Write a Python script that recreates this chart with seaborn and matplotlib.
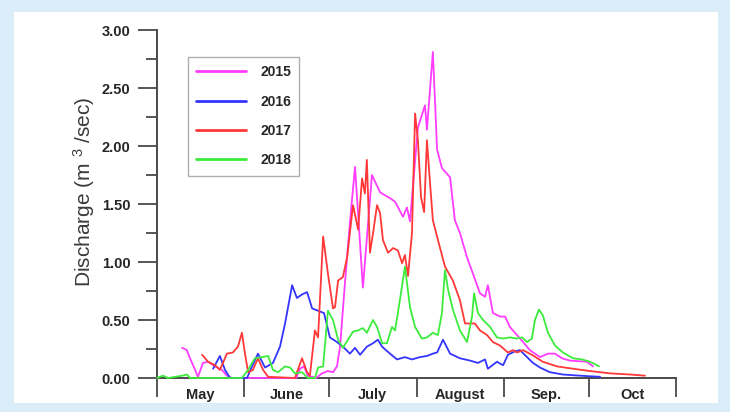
import matplotlib
matplotlib.use("Agg")
import matplotlib.pyplot as plt
from matplotlib.patches import Rectangle
import numpy as np
import pandas as pd
import seaborn as sns

sns.set_style("ticks")
plt.rcParams['font.family'] = ['Liberation Sans', 'DejaVu Sans']
plt.rcParams['mathtext.fontset'] = 'custom'
plt.rcParams['mathtext.rm'] = 'Liberation Sans'
plt.rcParams['mathtext.it'] = 'Liberation Sans:italic'
plt.rcParams['mathtext.bf'] = 'Liberation Sans:bold'

# ---- data: days since 1 May, discharge (m3/s) ----
years = ["2015", "2016", "2017", "2018"]
colors = ["#ff3cff", "#3434ff", "#ff3838", "#3cec3c"]

day_2015 = [8.9, 10.6, 11.7, 13.5, 14.5, 16.3, 18.1, 20.6, 23.0, 24.8, 26.6, 49.3, 50.7, 52.1, 53.5, 56.4,
            58.5, 60.6, 62.4, 63.8, 64.9, 66.7, 68.4, 70.2, 73.0, 76.2, 79.1, 82.6, 84.4, 87.2, 88.6, 89.7,
            92.5, 95.0, 95.7, 97.8, 99.3, 101.0, 103.9, 105.6, 107.4, 109.9, 112.0, 114.5, 116.3, 117.3,
            119.1, 121.6, 123.4, 125.1, 126.9, 129.8, 132.2, 135.8, 138.6, 141.1, 143.6, 146.4, 152.4, 154.6]
q_2015 = [0.26, 0.24, 0.17, 0.07, 0.01, 0.13, 0.14, 0.10, 0.07, 0.02, 0.0, 0.0, 0.08, 0.10, 0.02, 0.0,
          0.04, 0.06, 0.05, 0.10, 0.27, 0.84, 1.34, 1.82, 0.78, 1.75, 1.60, 1.55, 1.52, 1.39, 1.47, 1.35,
          2.16, 2.35, 2.14, 2.81, 1.97, 1.81, 1.73, 1.36, 1.25, 1.04, 0.90, 0.73, 0.70, 0.80,
          0.56, 0.53, 0.53, 0.44, 0.39, 0.31, 0.24, 0.18, 0.21, 0.21, 0.17, 0.15, 0.14, 0.10]

day_2016 = [19.9, 22.3, 24.1, 25.9, 31.9, 33.7, 35.8, 38.3, 41.1, 43.6, 45.4, 47.9, 49.6, 51.4, 53.2, 55.0,
            57.1, 59.2, 61.3, 63.8, 65.9, 68.4, 70.2, 72.0, 74.4, 76.6, 78.3, 79.8, 82.6, 85.1, 87.9, 90.4,
            93.2, 95.7, 97.8, 99.3, 101.4, 103.9, 107.4, 111.0, 113.8, 116.3, 117.3, 120.5, 122.7, 124.4,
            126.9, 128.7, 131.2, 133.3, 135.8, 139.3, 143.9, 150.0, 157.1]
q_2016 = [0.08, 0.19, 0.07, 0.0, 0.0, 0.10, 0.21, 0.09, 0.13, 0.27, 0.47, 0.80, 0.69, 0.72, 0.74, 0.60,
          0.58, 0.56, 0.35, 0.31, 0.27, 0.21, 0.26, 0.20, 0.27, 0.30, 0.33, 0.27, 0.21, 0.16, 0.18, 0.16,
          0.18, 0.19, 0.21, 0.22, 0.33, 0.21, 0.17, 0.15, 0.13, 0.16, 0.08, 0.14, 0.11, 0.20,
          0.23, 0.24, 0.18, 0.13, 0.09, 0.05, 0.03, 0.02, 0.01]

day_2017 = [16.0, 18.1, 20.6, 22.3, 24.8, 26.9, 28.7, 30.1, 31.2, 32.3, 34.0, 35.8, 37.6, 39.4, 48.9, 51.4,
            53.2, 54.2, 56.0, 57.1, 58.9, 60.6, 62.4, 63.1, 64.2, 65.9, 67.4, 69.5, 71.3, 72.7, 73.7, 74.4,
            75.5, 76.6, 78.0, 79.1, 80.1, 81.9, 83.7, 85.4, 86.9, 87.9, 89.0, 90.4, 91.5, 92.5, 93.6, 94.7,
            95.7, 96.8, 97.8, 99.6, 102.1, 104.9, 107.4, 109.2, 111.0, 112.7, 114.5, 117.0, 119.1, 121.6,
            124.4, 126.2, 127.6, 129.8, 132.9, 136.8, 141.8, 147.5, 153.5, 160.6, 167.7, 173.0]
q_2017 = [0.20, 0.14, 0.11, 0.07, 0.21, 0.22, 0.27, 0.39, 0.21, 0.05, 0.07, 0.17, 0.07, 0.01, 0.0, 0.17,
          0.05, 0.02, 0.41, 0.35, 1.22, 0.90, 0.60, 0.61, 0.84, 0.87, 1.04, 1.49, 1.28, 1.72, 1.59, 1.88,
          1.08, 1.25, 1.49, 1.42, 1.19, 1.08, 1.12, 1.10, 0.99, 1.06, 0.88, 1.25, 2.28, 2.05, 1.56, 1.43,
          2.05, 1.68, 1.36, 1.19, 0.96, 0.84, 0.67, 0.47, 0.47, 0.47, 0.41, 0.37, 0.31, 0.28,
          0.22, 0.24, 0.22, 0.24, 0.20, 0.14, 0.10, 0.08, 0.06, 0.04, 0.03, 0.02]

day_2018 = [0.0, 2.1, 3.9, 8.9, 10.6, 11.7, 30.1, 32.3, 34.7, 37.2, 39.4, 41.1, 42.9, 45.4, 47.2, 48.9,
            51.4, 53.5, 56.0, 57.1, 58.9, 60.6, 62.4, 64.2, 65.9, 67.7, 69.5, 71.3, 73.0, 74.4, 76.6, 78.0,
            79.8, 81.5, 83.3, 84.4, 86.1, 87.9, 89.7, 91.5, 93.9, 95.7, 97.8, 99.6, 101.0, 102.1, 103.2,
            104.9, 107.4, 109.9, 111.7, 112.4, 113.8, 115.6, 118.1, 120.5, 122.7, 125.1, 127.6, 129.4,
            131.2, 132.9, 134.0, 135.4, 136.8, 138.6, 141.1, 143.9, 147.5, 150.7, 153.5, 156.0, 156.7]
q_2018 = [0.0, 0.02, 0.0, 0.02, 0.03, 0.0, 0.0, 0.07, 0.17, 0.18, 0.19, 0.07, 0.05, 0.10, 0.09, 0.04,
          0.05, 0.0, 0.0, 0.09, 0.10, 0.58, 0.50, 0.33, 0.26, 0.33, 0.40, 0.41, 0.43, 0.39, 0.50, 0.44,
          0.30, 0.30, 0.44, 0.41, 0.67, 0.96, 0.61, 0.44, 0.34, 0.35, 0.39, 0.37, 0.56, 0.93, 0.76,
          0.59, 0.41, 0.31, 0.53, 0.73, 0.56, 0.50, 0.44, 0.35, 0.34, 0.35, 0.34, 0.35,
          0.31, 0.34, 0.50, 0.59, 0.54, 0.39, 0.28, 0.22, 0.17, 0.16, 0.14, 0.11, 0.10]

month_edges = [0, 31, 61, 92, 123, 153, 184]
month_labels = ["May", "June", "July", "August", "Sep.", "Oct"]
y_ticks = [0.0, 0.5, 1.0, 1.5, 2.0, 2.5, 3.0]

series = {
    "2015": (day_2015, q_2015),
    "2016": (day_2016, q_2016),
    "2017": (day_2017, q_2017),
    "2018": (day_2018, q_2018),
}

W, H = 730, 412
fig = plt.figure(figsize=(W / 100, H / 100), dpi=100)
fig.patch.set_facecolor("#dcedfa")
bg = Rectangle((14 / W, 9 / H), (718 - 14) / W, (403 - 12) / H,
               transform=fig.transFigure, facecolor="white", edgecolor="none", zorder=-5)
fig.patches.append(bg)

ax = fig.add_axes([157 / W, (H - 378) / H, 519 / W, 348 / H])
ax.set_facecolor("none")
ax.set_zorder(2)

for yr, col in zip(years, colors):
    d, q = series[yr]
    df = pd.DataFrame({"day": d, "q": q})
    sns.lineplot(data=df, x="day", y="q", ax=ax, color=col, lw=1.3, label=yr,
                 estimator=None, sort=False, clip_on=False, zorder=3)

ax.set_xlim(0, 184)
ax.set_ylim(0, 3)
sns.despine(ax=ax)
for s in ["left", "bottom"]:
    ax.spines[s].set_color("#4a4a4a")
    ax.spines[s].set_linewidth(1.4)

ax.set_yticks(y_ticks)
ax.set_yticklabels([f"{v:.2f}" for v in y_ticks], fontweight="bold", fontsize=10.5)
ax.set_yticks(np.arange(0.25, 3.0, 0.5), minor=True)
ax.tick_params(axis="y", which="major", direction="out", length=14, width=1.3, color="#4a4a4a", pad=5)
ax.tick_params(axis="y", which="minor", direction="out", length=8, width=1.3, color="#4a4a4a")

ax.set_xticks(month_edges)
ax.set_xticklabels([])
mids = [(a + b) / 2 for a, b in zip(month_edges[:-1], month_edges[1:])]
ax.set_xticks(mids, minor=True)
ax.set_xticklabels(month_labels, minor=True, fontweight="bold", fontsize=10.5)
ax.tick_params(axis="x", which="major", direction="out", length=14, width=1.3, color="#4a4a4a")
ax.tick_params(axis="x", which="minor", length=0, pad=7)

ax.set_xlabel("")
ax.set_ylabel("Discharge (m $^{3}$ /sec)", fontsize=15, color="#3a3a3a")
ax.yaxis.set_label_coords(-0.115, 0.534)

leg = ax.legend(loc="upper left", bbox_to_anchor=((188 - 157) / 519, (378 - 57) / 348),
                borderaxespad=0, fancybox=False, frameon=True, edgecolor="#9a9a9a",
                prop={"weight": "bold", "size": 10}, handlelength=3.6, handletextpad=1.0,
                labelspacing=1.1, borderpad=0.6)
leg.get_frame().set_linewidth(1.0)
for line in leg.get_lines():
    line.set_linewidth(2.0)

fig.savefig("out.png", dpi=100, facecolor=fig.get_facecolor())
